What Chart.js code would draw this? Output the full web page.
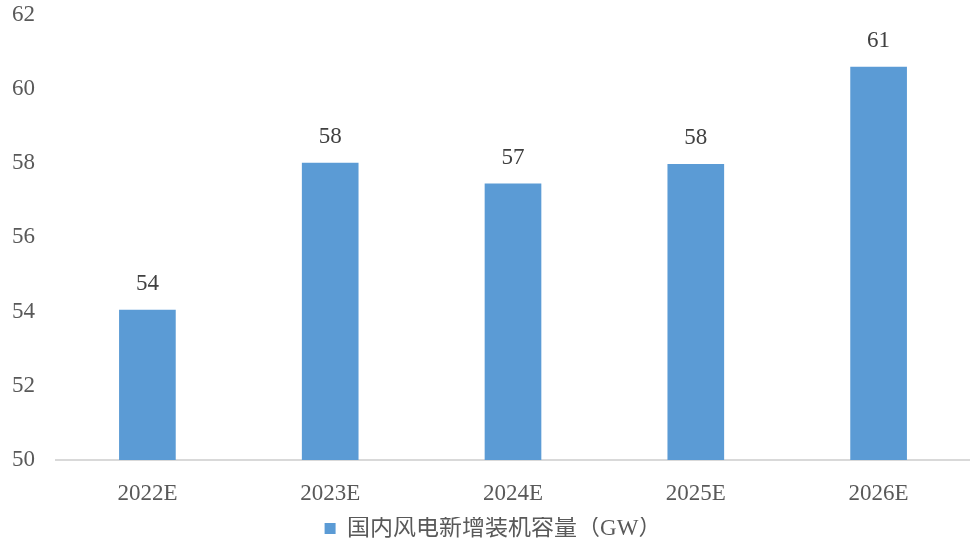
<!DOCTYPE html>
<html>
<head>
<meta charset="utf-8">
<script src="https://cdn.jsdelivr.net/npm/chart.js@4/dist/chart.umd.min.js"></script>
<style>
  html, body { margin: 0; padding: 0; background: #fff; }
  #wrap { width: 970px; height: 539px; }
</style>
</head>
<body>
<div id="wrap"><canvas id="chart"></canvas></div>
<script>
var categories = ['2022E', '2023E', '2024E', '2025E', '2026E'];
var capacity = [54.05, 58.01, 57.45, 57.98, 60.6];
var seriesName = '国内风电新增装机容量（GW）';

var fontFamily = '"Liberation Serif", "Times New Roman", "Noto Sans CJK SC", serif';

// labels above each bar
var barLabels = {
  id: 'barLabels',
  afterDatasetsDraw: function (chart) {
    var ctx = chart.ctx;
    var meta = chart.getDatasetMeta(0);
    ctx.save();
    ctx.font = '23px ' + fontFamily;
    ctx.fillStyle = '#404040';
    ctx.textAlign = 'center';
    ctx.textBaseline = 'bottom';
    meta.data.forEach(function (bar, i) {
      ctx.fillText(Math.round(capacity[i]), bar.x, bar.y - 14);
    });
    ctx.restore();
  }
};

new Chart(document.getElementById('chart'), {
  type: 'bar',
  data: {
    labels: categories,
    datasets: [{
      label: seriesName,
      data: capacity,
      backgroundColor: '#5B9BD5',
      borderWidth: 0,
      barPercentage: 0.31,
      categoryPercentage: 1
    }]
  },
  options: {
    responsive: true,
    maintainAspectRatio: false,
    animation: false,
    layout: { padding: { top: 0, right: -4, left: 12, bottom: -11 } },
    plugins: {
      legend: {
        position: 'bottom',
        labels: {
          font: { family: fontFamily, size: 23 },
          color: '#595959',
          boxWidth: 11,
          boxHeight: 11,
          padding: 0
        }
      },
      tooltip: { enabled: false }
    },
    scales: {
      x: {
        grid: { display: false, drawTicks: false },
        border: { color: '#d9d9d9', width: 2 },
        ticks: {
          font: { family: fontFamily, size: 23 },
          color: '#595959',
          padding: 20
        },
        afterFit: function (scale) { scale.height = 57; }
      },
      y: {
        min: 50,
        max: 62,
        grid: { display: false, drawTicks: false },
        border: { display: false },
        ticks: {
          stepSize: 2,
          font: { family: fontFamily, size: 23 },
          color: '#595959',
          padding: 1,
          crossAlign: 'far'
        },
        afterFit: function (scale) { scale.width = 44; }
      }
    }
  },
  plugins: [barLabels]
});
</script>
</body>
</html>
